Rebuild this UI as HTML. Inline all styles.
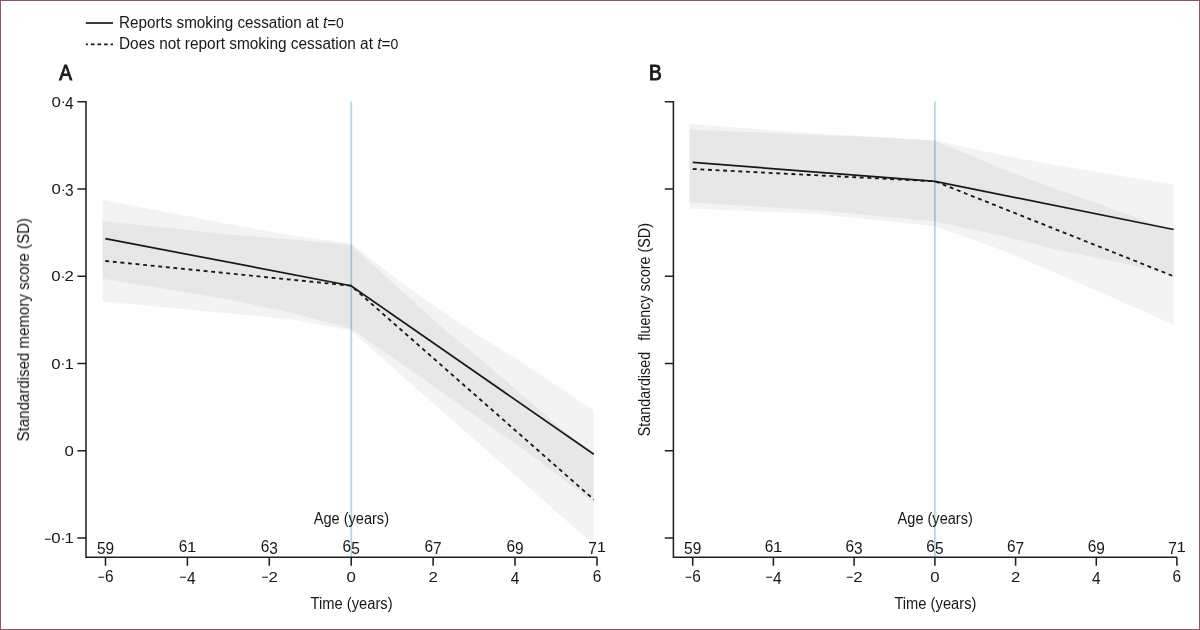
<!DOCTYPE html>
<html>
<head>
<meta charset="utf-8">
<title>Figure</title>
<style>
html,body{margin:0;padding:0;background:#fff;}
body{width:1200px;height:630px;overflow:hidden;position:relative;}
svg{position:absolute;left:0;top:0;display:block;}
text{font-family:"Liberation Sans",sans-serif;fill:#1a1718;}
.txt{filter:grayscale(1);}
.t{font-size:16px;}
.b{font-size:21.3px;font-weight:normal;stroke:#1a1718;stroke-width:0.9px;stroke-linejoin:miter;}
.ax{stroke:#231f20;stroke-width:1.55;fill:none;}
.ln{stroke:#1a1718;stroke-width:1.7;fill:none;stroke-linejoin:miter;}
.band{fill:#000;fill-opacity:0.049;}
.v{stroke:#b5d5e2;stroke-width:1.75;}
</style>
</head>
<body>
<svg width="1200" height="630" viewBox="0 0 1200 630">
<rect x="0" y="0" width="1200" height="630" fill="#fff"/>
<!-- legend -->
<line class="ln" x1="85.8" y1="23" x2="113" y2="23"/>
<line class="ln" x1="85.8" y1="44.3" x2="113" y2="44.3" stroke-dasharray="3.6 3" stroke-dashoffset="1.5"/>
<!-- Panel A -->
<g>
<line class="v" x1="351.3" y1="101.6" x2="351.3" y2="557"/>
<polygon class="band" points="102.5,199.7 230,224.3 292,235.6 351,243.5 400,281.5 440,309.7 480,336.5 516.2,358.4 593.8,410.5 593.8,503 530,454.3 440,390.8 351,328.7 292,313 230,299.8 102.5,278.7"/>
<polygon class="band" points="102.5,221 230,234.5 292,239.5 351,245 400,289.5 440,325.4 471,351 556.8,424.4 593.8,454.5 593.8,545 530,488.6 440,409.5 351,330.6 292,319.6 230,313.5 102.5,301.4"/>
<polyline class="ln" points="105.3,238.6 351,285.7 593.8,454.3"/>
<polyline class="ln" style="stroke-width:1.85" stroke-dasharray="3.9 3.7" points="105.3,261 351,285.7 593.8,499.5"/>
<path class="ax" d="M77.4,101.8H86V557.2H597.1"/>
<path class="ax" d="M77.4,189.0H86M77.4,276.2H86M77.4,363.5H86M77.4,450.7H86M77.4,538.0H86"/>
<path class="ax" d="M105.5,557.2V565.8M187.4,557.2V565.8M269.3,557.2V565.8M351.2,557.2V565.8M433.1,557.2V565.8M515.0,557.2V565.8M597.0,557.2V565.8"/>
</g>
<!-- Panel B -->
<g>
<line class="v" x1="934.85" y1="101.6" x2="934.85" y2="557"/>
<polygon class="band" points="689.5,124 815,133.4 880,137 935,140.4 1000,154.8 1054,164.7 1120,175.7 1173.7,184.4 1173.7,275 1120,262.7 1054,249 1000,235.2 935,221.5 815,210.1 689.5,202.2"/>
<polygon class="band" points="689.5,129.5 815,135 880,137.2 935,140.6 1000,168.1 1029.7,179.3 1120,211.4 1173.7,231 1173.7,324.8 1095.2,290 1000,249.5 935,226.3 815,213.8 689.5,208.6"/>
<polyline class="ln" points="692.8,162.4 935,181.3 1173.7,229.5"/>
<polyline class="ln" style="stroke-width:1.85" stroke-dasharray="3.9 3.7" points="692.8,169 935,181.3 1173.7,276.3"/>
<path class="ax" d="M664.8,101.8H673.4V557.2H1177"/>
<path class="ax" d="M664.8,189.0H673.4M664.8,276.2H673.4M664.8,363.5H673.4M664.8,450.7H673.4M664.8,538.0H673.4"/>
<path class="ax" d="M692.7,557.2V565.8M773.4,557.2V565.8M854.1,557.2V565.8M934.9,557.2V565.8M1015.6,557.2V565.8M1096.3,557.2V565.8M1176.9,557.2V565.8"/>
</g>
<g class="txt">
<!-- legend text + panel letters -->
<text class="t" x="119" y="28.3" textLength="224.8" lengthAdjust="spacingAndGlyphs">Reports smoking cessation at <tspan font-style="italic">t</tspan>=<tspan font-size="14.6">0</tspan></text>
<text class="t" x="119" y="49.3" textLength="279.3" lengthAdjust="spacingAndGlyphs">Does not report smoking cessation at <tspan font-style="italic">t</tspan>=<tspan font-size="14.6">0</tspan></text>
<text class="b" transform="translate(59.2,80) scale(0.9,1)">A</text>
<text class="b" transform="translate(649.1,80) scale(0.9,1)">B</text>
<!-- y tick labels -->
<text transform="translate(51.53,106.90) scale(1.120,1)" font-size="15.0">0</text><text transform="translate(60.71,106.40) scale(1.000,1)" font-size="15">·</text><text transform="translate(65.00,108.90) scale(0.899,1)" font-size="17.2">4</text>
<text transform="translate(51.53,194.10) scale(1.120,1)" font-size="15.0">0</text><text transform="translate(60.71,193.60) scale(1.000,1)" font-size="15">·</text><text transform="translate(65.00,196.10) scale(0.899,1)" font-size="17.2">3</text>
<text transform="translate(51.33,281.30) scale(1.120,1)" font-size="15.0">0</text><text transform="translate(60.51,280.80) scale(1.000,1)" font-size="15">·</text><text transform="translate(64.53,281.30) scale(1.120,1)" font-size="15.0">2</text>
<text transform="translate(51.33,368.60) scale(1.120,1)" font-size="15.0">0</text><text transform="translate(60.51,368.10) scale(1.000,1)" font-size="15">·</text><text transform="translate(64.53,368.60) scale(1.120,1)" font-size="15.0">1</text>
<text transform="translate(64.53,455.80) scale(1.120,1)" font-size="15.0">0</text>
<text transform="translate(44.20,543.50) scale(0.800,1)" font-size="15">−</text><text transform="translate(51.33,543.10) scale(1.120,1)" font-size="15.0">0</text><text transform="translate(60.51,542.60) scale(1.000,1)" font-size="15">·</text><text transform="translate(64.53,543.10) scale(1.120,1)" font-size="15.0">1</text>
<!-- y titles -->
<text class="t" transform="translate(29,441.4) rotate(-90)" textLength="223.3" lengthAdjust="spacingAndGlyphs">Standardised memory score (SD)</text>
<text class="t" transform="translate(649.7,436.2) rotate(-90)" textLength="84.3" lengthAdjust="spacingAndGlyphs">Standardised</text>
<text class="t" transform="translate(649.7,340.7) rotate(-90)" textLength="117.6" lengthAdjust="spacingAndGlyphs">fluency score (SD)</text>
<!-- x labels -->
<text transform="translate(96.90,554.40) scale(0.899,1)" font-size="17.2">5</text><text transform="translate(105.50,554.40) scale(0.899,1)" font-size="17.2">9</text>
<text transform="translate(97.70,582.40) scale(0.800,1)" font-size="15">−</text><text transform="translate(105.10,582.00) scale(0.899,1)" font-size="17.2">6</text>
<text transform="translate(178.70,552.40) scale(0.899,1)" font-size="17.2">6</text><text transform="translate(187.03,552.40) scale(1.120,1)" font-size="15.0">1</text>
<text transform="translate(179.60,582.40) scale(0.800,1)" font-size="15">−</text><text transform="translate(187.00,584.00) scale(0.899,1)" font-size="17.2">4</text>
<text transform="translate(260.70,552.40) scale(0.899,1)" font-size="17.2">6</text><text transform="translate(269.30,554.40) scale(0.899,1)" font-size="17.2">3</text>
<text transform="translate(261.40,582.40) scale(0.800,1)" font-size="15">−</text><text transform="translate(268.53,582.00) scale(1.120,1)" font-size="15.0">2</text>
<text transform="translate(342.60,552.40) scale(0.899,1)" font-size="17.2">6</text><text transform="translate(351.20,554.40) scale(0.899,1)" font-size="17.2">5</text>
<text transform="translate(346.53,582.00) scale(1.120,1)" font-size="15.0">0</text>
<text transform="translate(424.50,552.40) scale(0.899,1)" font-size="17.2">6</text><text transform="translate(433.10,554.40) scale(0.899,1)" font-size="17.2">7</text>
<text transform="translate(428.43,582.00) scale(1.120,1)" font-size="15.0">2</text>
<text transform="translate(506.40,552.40) scale(0.899,1)" font-size="17.2">6</text><text transform="translate(515.00,554.40) scale(0.899,1)" font-size="17.2">9</text>
<text transform="translate(510.70,584.00) scale(0.899,1)" font-size="17.2">4</text>
<text transform="translate(588.30,554.40) scale(0.899,1)" font-size="17.2">7</text><text transform="translate(596.63,552.40) scale(1.120,1)" font-size="15.0">1</text>
<text transform="translate(592.70,582.00) scale(0.899,1)" font-size="17.2">6</text>
<text transform="translate(684.10,554.40) scale(0.899,1)" font-size="17.2">5</text><text transform="translate(692.70,554.40) scale(0.899,1)" font-size="17.2">9</text>
<text transform="translate(684.90,582.40) scale(0.800,1)" font-size="15">−</text><text transform="translate(692.30,582.00) scale(0.899,1)" font-size="17.2">6</text>
<text transform="translate(764.70,552.40) scale(0.899,1)" font-size="17.2">6</text><text transform="translate(773.03,552.40) scale(1.120,1)" font-size="15.0">1</text>
<text transform="translate(765.60,582.40) scale(0.800,1)" font-size="15">−</text><text transform="translate(773.00,584.00) scale(0.899,1)" font-size="17.2">4</text>
<text transform="translate(845.50,552.40) scale(0.899,1)" font-size="17.2">6</text><text transform="translate(854.10,554.40) scale(0.899,1)" font-size="17.2">3</text>
<text transform="translate(846.20,582.40) scale(0.800,1)" font-size="15">−</text><text transform="translate(853.33,582.00) scale(1.120,1)" font-size="15.0">2</text>
<text transform="translate(926.30,552.40) scale(0.899,1)" font-size="17.2">6</text><text transform="translate(934.90,554.40) scale(0.899,1)" font-size="17.2">5</text>
<text transform="translate(930.23,582.00) scale(1.120,1)" font-size="15.0">0</text>
<text transform="translate(1007.00,552.40) scale(0.899,1)" font-size="17.2">6</text><text transform="translate(1015.60,554.40) scale(0.899,1)" font-size="17.2">7</text>
<text transform="translate(1010.93,582.00) scale(1.120,1)" font-size="15.0">2</text>
<text transform="translate(1087.70,552.40) scale(0.899,1)" font-size="17.2">6</text><text transform="translate(1096.30,554.40) scale(0.899,1)" font-size="17.2">9</text>
<text transform="translate(1092.00,584.00) scale(0.899,1)" font-size="17.2">4</text>
<text transform="translate(1168.20,554.40) scale(0.899,1)" font-size="17.2">7</text><text transform="translate(1176.53,552.40) scale(1.120,1)" font-size="15.0">1</text>
<text transform="translate(1172.60,582.00) scale(0.899,1)" font-size="17.2">6</text>
<text class="t" x="313.8" y="524.4" textLength="75.2" lengthAdjust="spacingAndGlyphs">Age (years)</text>
<text class="t" x="897.6" y="524.4" textLength="75.2" lengthAdjust="spacingAndGlyphs">Age (years)</text>
<text class="t" x="310.6" y="609" textLength="82" lengthAdjust="spacingAndGlyphs">Time (years)</text>
<text class="t" x="894.4" y="609" textLength="82" lengthAdjust="spacingAndGlyphs">Time (years)</text>
</g>
<!-- border -->
<rect x="0.5" y="0.5" width="1199" height="629" fill="none" stroke="#8f5467" stroke-width="1"/>
</svg>
</body>
</html>
